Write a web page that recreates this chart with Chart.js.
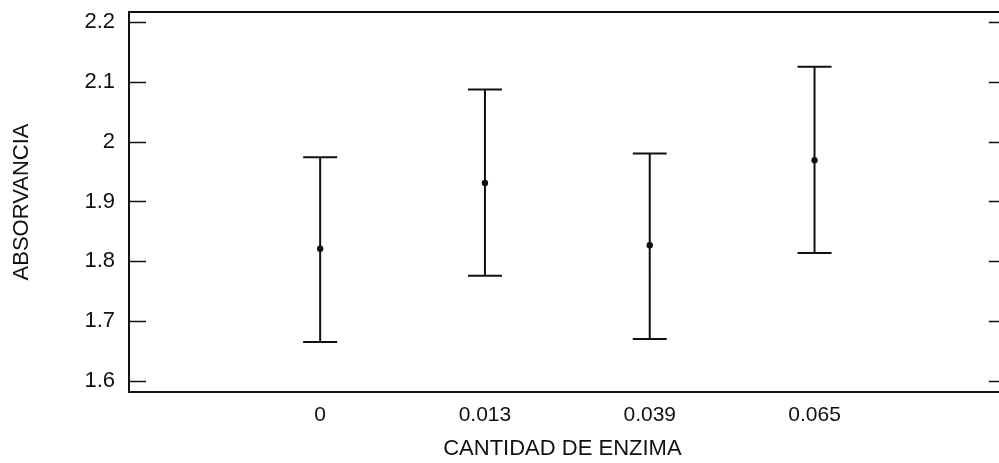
<!DOCTYPE html>
<html>
<head>
<meta charset="utf-8">
<script src="https://cdn.jsdelivr.net/npm/chart.js@4/dist/chart.umd.min.js"></script>
<style>
  html, body { margin: 0; padding: 0; background: #fff; overflow: hidden; }
  #wrap { width: 999px; height: 463px; position: relative; }
</style>
</head>
<body>
<div id="wrap"><canvas id="c"></canvas></div>
<script>
// Enzyme amount groups and absorbance: mean with lower/upper interval limits
const categories = ['0', '0.013', '0.039', '0.065'];
const means  = [1.821, 1.931, 1.827, 1.969];
const lowers = [1.665, 1.776, 1.670, 1.814];
const uppers = [1.974, 2.087, 1.980, 2.125];
const yTicks = [1.6, 1.7, 1.8, 1.9, 2.0, 2.1, 2.2];

const FONT = "'Liberation Sans', Arial, sans-serif";
const INK = '#111';

// Whiskers with caps, and the plot frame with inward y ticks
const errorBarsAndFrame = {
  id: 'errorBarsAndFrame',
  afterDatasetsDraw(chart) {
    const { ctx, chartArea: a, scales: { x, y } } = chart;
    ctx.save();
    ctx.strokeStyle = INK;
    ctx.lineWidth = 2;
    ctx.lineCap = 'butt';
    // frame: top, bottom, left
    ctx.beginPath();
    ctx.moveTo(a.left, a.top); ctx.lineTo(chart.width, a.top);
    ctx.moveTo(a.left, a.bottom); ctx.lineTo(chart.width, a.bottom);
    ctx.moveTo(a.left, a.top - 1); ctx.lineTo(a.left, a.bottom + 1);
    ctx.stroke();
    // inward ticks on both sides
    ctx.beginPath();
    yTicks.forEach(v => {
      const py = Math.round(y.getPixelForValue(v)) + 0.5;
      ctx.moveTo(a.left, py); ctx.lineTo(a.left + 17, py);
      ctx.moveTo(a.right - 7, py); ctx.lineTo(chart.width, py);
    });
    ctx.lineWidth = 1.6;
    ctx.stroke();
    // error bars
    ctx.lineWidth = 2;
    ctx.beginPath();
    categories.forEach((c, i) => {
      const px = x.getPixelForValue(i + 1);
      const pLo = y.getPixelForValue(lowers[i]);
      const pHi = y.getPixelForValue(uppers[i]);
      ctx.moveTo(px, pHi); ctx.lineTo(px, pLo);
      ctx.moveTo(px - 17, pHi); ctx.lineTo(px + 17, pHi);
      ctx.moveTo(px - 17, pLo); ctx.lineTo(px + 17, pLo);
    });
    ctx.stroke();
    ctx.restore();
  }
};

new Chart(document.getElementById('c'), {
  type: 'scatter',
  data: {
    datasets: [{
      data: means.map((m, i) => ({ x: i + 1, y: m })),
      pointRadius: 3.2,
      pointHoverRadius: 3.2,
      pointBackgroundColor: INK,
      pointBorderColor: INK,
      pointBorderWidth: 0
    }]
  },
  options: {
    responsive: true,
    maintainAspectRatio: false,
    animation: false,
    events: [],
    layout: { padding: { top: 12, left: 0, right: 1, bottom: 0 } },
    plugins: { legend: { display: false }, tooltip: { enabled: false } },
    scales: {
      x: {
        type: 'linear',
        min: -0.16,
        max: 5.1,
        grid: { display: false, drawTicks: false },
        border: { display: false },
        afterBuildTicks(scale) { scale.ticks = categories.map((c, i) => ({ value: i + 1 })); },
        afterFit(scale) {
          scale.height = 71;
          scale.paddingLeft = 0;
          scale.paddingRight = 0;
        },
        ticks: {
          autoSkip: false,
          maxRotation: 0,
          padding: 11,
          color: INK,
          font: { family: FONT, size: 21 },
          callback: (v) => categories[v - 1] ?? ''
        },
        title: {
          display: true,
          text: 'CANTIDAD DE ENZIMA',
          color: INK,
          font: { family: FONT, size: 22 },
          padding: { top: 0, bottom: 1 }
        }
      },
      y: {
        min: 1.5816,
        max: 2.2167,
        grid: { display: false, drawTicks: false },
        border: { display: false },
        afterBuildTicks(scale) { scale.ticks = yTicks.map(v => ({ value: v })); },
        afterFit(scale) {
          scale.width = 129;
          scale.paddingTop = 0;
          scale.paddingBottom = 0;
        },
        ticks: {
          padding: 14,
          color: INK,
          font: { family: FONT, size: 22 },
          callback: (v) => String(Number(v.toFixed(1)))
        },
        title: {
          display: true,
          text: 'ABSORVANCIA',
          color: INK,
          font: { family: FONT, size: 22 },
          padding: { top: 9, bottom: 0 }
        }
      }
    }
  },
  plugins: [errorBarsAndFrame]
});
</script>
</body>
</html>
